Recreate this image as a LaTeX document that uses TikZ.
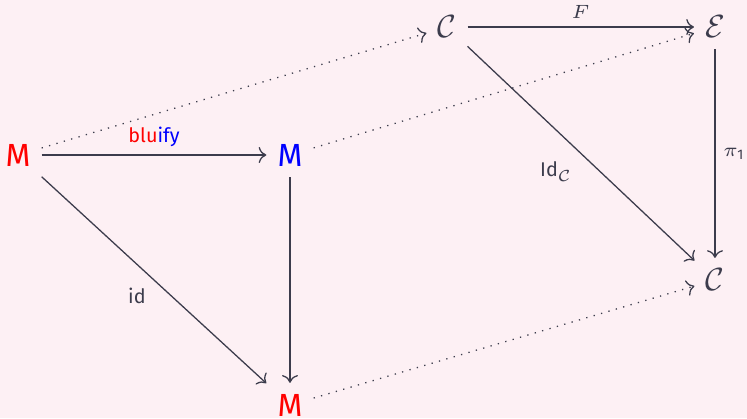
\documentclass[tikz,border=0pt]{standalone}
\usepackage{fontspec}
\setmainfont{Fira Sans}
\setsansfont{Fira Sans}
\usepackage{amsmath,amssymb}
\usepackage{xcolor}
\usetikzlibrary{arrows.meta}

\definecolor{bgpink}{RGB}{253,240,244}
\definecolor{ink}{RGB}{60,60,76}

\tikzset{
  obj/.style={text=ink, inner sep=3.3pt},
  mor/.style={draw=ink, -{To[length=2.4pt,width=5pt]}},
  dmor/.style={mor, dotted},
  lab/.style={text=ink, font=\fontsize{6.2}{7}\selectfont, inner sep=2.4pt}
}

\begin{document}
\begin{tikzpicture}[x=0.3125pt,y=-0.3125pt]
    % Canvas
    \fill[bgpink] (0,0) rectangle (747,418);
    \useasboundingbox (0,0) rectangle (747,418);
    % Objects, front square
    \node[obj] (mr)  at (18,155)  {\textcolor{red}{M}};
    \node[obj] (mb)  at (290,155) {\textcolor{blue}{M}};
    \node[obj] (mr2) at (290,405) {\textcolor{red}{M}};
    % Objects, back triangle
    \node[obj] (c)   at (447,27)  {$\mathcal{C}$};
    \node[obj] (e)   at (715,27)  {$\mathcal{E}$};
    \node[obj] (c2)  at (715,280) {$\mathcal{C}$};
    % Solid arrows
    \draw[mor] (mr) -- node[lab, above] {\textcolor{red}{blu}\textcolor{blue}{ify}} (mb);
    \draw[mor] (mr) -- node[lab, below left] {id} (mr2);
    \draw[mor] (mb) -- (mr2);
    \draw[mor] (c) -- node[lab, above] {$F$} (e);
    \draw[mor] (c) -- node[lab, below left] {$\mathsf{Id}_{\mathcal{C}}$} (c2);
    \draw[mor] (e) -- node[lab, right] {$\pi_{\mathsf{1}}$} (c2);
    % Dotted arrows
    \draw[dmor] (mr) -- (c);
    \draw[dmor] (mb) -- (e);
    \draw[dmor] (mr2) -- (c2);
  \end{tikzpicture}
\end{document}
